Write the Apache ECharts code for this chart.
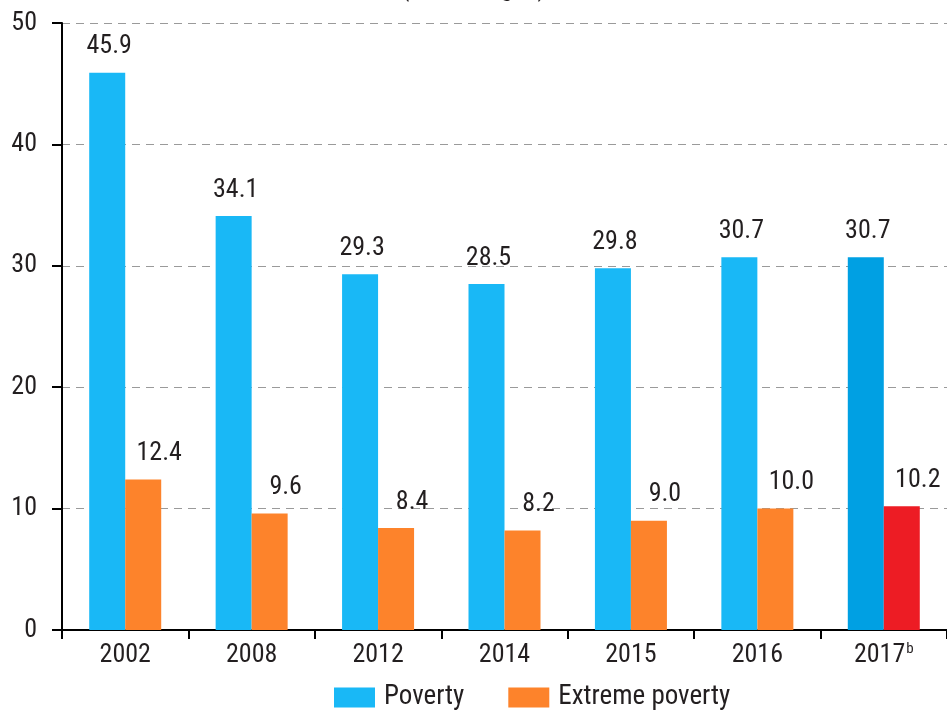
<!DOCTYPE html>
<html>
<head>
<meta charset="utf-8">
<script src="https://cdn.jsdelivr.net/npm/echarts@6/dist/echarts.min.js"></script>
<style>
html, body { margin: 0; padding: 0; background: #fff; }
#chart { width: 947px; height: 711px; }
</style>
</head>
<body>
<div id="chart"></div>
<script>
// categories and values
const years = ['2002', '2008', '2012', '2014', '2015', '2016', '2017'];
const poverty = [45.9, 34.1, 29.3, 28.5, 29.8, 30.7, 30.7];
const extremePoverty = [12.4, 9.6, 8.4, 8.2, 9.0, 10.0, 10.2];
const yTicks = [0, 10, 20, 30, 40, 50];

const FONT = '"Roboto Condensed", "Liberation Sans Narrow", Roboto, sans-serif';
const TEXT = '#231f20';

const chart = echarts.init(document.getElementById('chart'));

// the last year has its own colours
const povData = poverty.map((v, i) => i === years.length - 1
    ? { value: v, itemStyle: { color: '#00a0e3' } } : v);
const extData = extremePoverty.map((v, i) => i === years.length - 1
    ? { value: v, itemStyle: { color: '#ed1c24' } } : v);

chart.setOption({
    animation: false,
    title: {
        text: '(Percentages)',
        left: 'center',
        top: -29,
        textStyle: { fontFamily: FONT, fontSize: 26, fontWeight: 'normal', color: TEXT }
    },
    grid: { left: 62, right: 0, top: 23, bottom: 81 },
    legend: {
        top: 679,
        left: 329,
        itemWidth: 41,
        itemHeight: 20,
        itemGap: 44,
        icon: 'rect',
        textStyle: { fontFamily: FONT, fontSize: 27, color: TEXT, padding: [0, 0, 0, 4] },
        data: ['Poverty', 'Extreme poverty']
    },
    xAxis: {
        type: 'category',
        data: years,
        axisLine: { lineStyle: { color: '#000', width: 2 } },
        axisTick: { show: true, length: 9, lineStyle: { color: '#000', width: 2 } },
        axisLabel: {
            interval: 0,
            fontFamily: FONT, fontSize: 26, color: TEXT, margin: 12,
            formatter: v => v === '2017' ? '2017{sup|b}' : v,
            rich: { sup: { fontFamily: FONT, fontSize: 15, color: TEXT, verticalAlign: 'top', padding: [0, 0, 12, 1] } }
        }
    },
    yAxis: {
        type: 'value',
        min: yTicks[0],
        max: yTicks[yTicks.length - 1],
        interval: 10,
        axisLine: { show: true, lineStyle: { color: '#000', width: 2 } },
        axisTick: { show: true, length: 10, lineStyle: { color: '#000', width: 2 } },
        axisLabel: { fontFamily: FONT, fontSize: 26, color: TEXT, margin: 25 },
        splitLine: { lineStyle: { color: '#9a9a9a', type: [8, 6], width: 1 } }
    },
    series: [
        {
            name: 'Poverty',
            type: 'bar',
            data: povData,
            barWidth: 36,
            barGap: '0%',
            itemStyle: { color: '#19b8f6' },
            label: {
                show: true, position: 'top', distance: 13, offset: [2, 0],
                fontFamily: FONT, fontSize: 26, color: TEXT,
                formatter: p => p.value.toFixed(1)
            }
        },
        {
            name: 'Extreme poverty',
            type: 'bar',
            data: extData,
            barWidth: 36,
            itemStyle: { color: '#fd832b' },
            label: {
                show: true, position: 'top', distance: 13, offset: [16, 0],
                fontFamily: FONT, fontSize: 26, color: TEXT,
                formatter: p => p.value.toFixed(1)
            }
        }
    ]
});
</script>
</body>
</html>
